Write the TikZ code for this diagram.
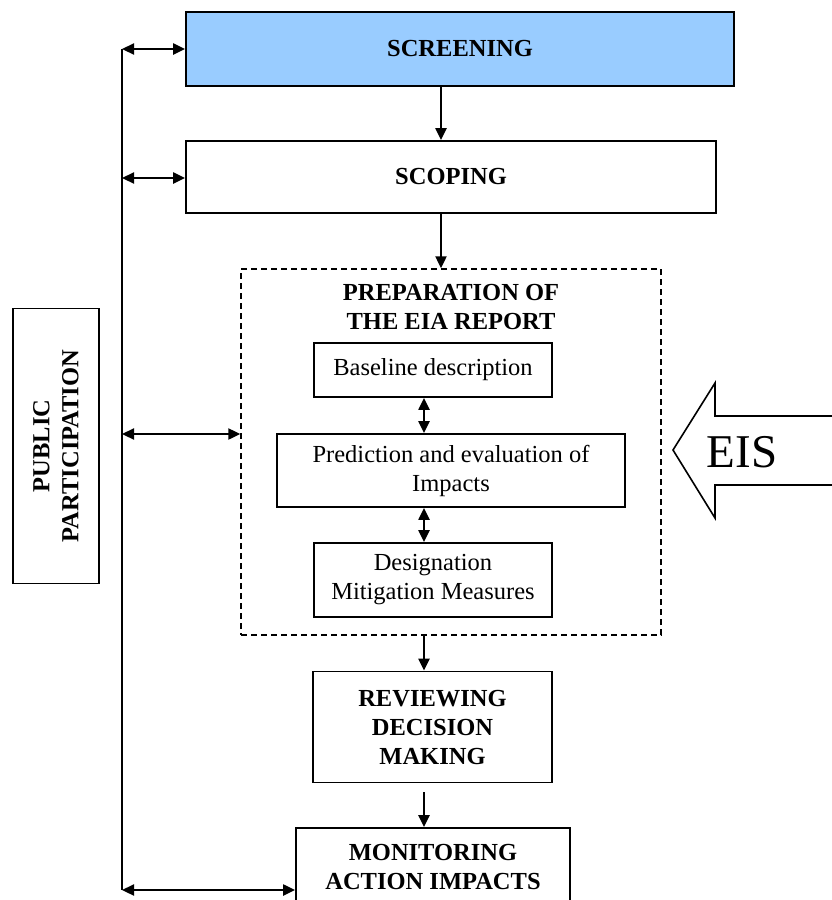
\documentclass[tikz,border=0pt]{standalone}
\usepackage{fontspec}
\setmainfont{Liberation Serif}
\usetikzlibrary{arrows.meta}
\definecolor{screenblue}{RGB}{153,204,255}
\tikzset{
  box/.style={draw, line width=1.8pt, rectangle, inner sep=0pt, align=center,
    font=\fontsize{24.5}{29}\selectfont},
  bbox/.style={box, font=\fontsize{24.5}{29}\selectfont\bfseries},
  dashbox/.style={draw, line width=1.4pt, dash pattern=on 6pt off 4pt, rectangle, inner sep=0pt},
  conn/.style={line width=2.2pt, -{Triangle[length=12pt,width=11pt]}},
  dconn/.style={line width=2.2pt, {Triangle[length=12pt,width=11pt]}-{Triangle[length=12pt,width=11pt]}},
}
\begin{document}
\begin{tikzpicture}[x=1pt,y=-1pt]
\clip (0,0) rectangle (832,900);
\fill[white] (0,0) rectangle (832,900);

% main column
\node[bbox, fill=screenblue, minimum width=548, minimum height=74] (scr) at (460,49) {SCREENING};
\node[bbox, minimum width=530, minimum height=72] (scp) at (451,177) {SCOPING};
\node[dashbox, minimum width=420, minimum height=366] (prep) at (451,452) {};
\node[font=\fontsize{24.5}{29}\selectfont\bfseries, align=center, inner sep=0pt] (title) at (451,307.5) {PREPARATION OF\\THE EIA REPORT};
\node[box, minimum width=238, minimum height=54] (base) at (433,370) {Baseline description};
\node[box, minimum width=348, minimum height=73] (pred) at (451,470.5) {Prediction and evaluation of\\Impacts};
\node[box, minimum width=238, minimum height=74] (desg) at (433,580) {Designation\\Mitigation Measures};
\node[bbox, minimum width=239, minimum height=111] (rev) at (432.5,727) {REVIEWING\\DECISION\\MAKING};
\node[bbox, minimum width=274, minimum height=100] (mon) at (433,878) {};
\node[font=\fontsize{24.5}{29}\selectfont\bfseries, align=center, inner sep=0pt] (montext) at (433,866.5) {MONITORING\\ACTION IMPACTS};

% public participation
\node[bbox, rotate=90, minimum width=275, minimum height=86] (pp) at (56,446) {PUBLIC\\PARTICIPATION};

% vertical connectors
\coordinate (ax1) at (441,0);
\coordinate (ax2) at (424,0);
\draw[conn] (scr.south -| ax1) -- (scp.north -| ax1);
\draw[conn] (scp.south -| ax1) -- (prep.north -| ax1);
\draw[dconn] (base.south -| ax2) -- (pred.north -| ax2);
\draw[dconn] (pred.south -| ax2) -- (desg.north -| ax2);
\draw[conn] (prep.south -| ax2) -- (rev.north -| ax2);
\coordinate (rs) at (424,792);
\draw[conn] (rs) -- (mon.north -| rs);

% left feedback line
\coordinate (l1) at (122,49);
\coordinate (l2) at (122,178);
\coordinate (l3) at (122,434);
\coordinate (l4) at (122,890);
\draw[line width=2.2pt] (l1) -- (l4);
\draw[dconn] (l1) -- (scr.west);
\draw[dconn] (l2) -- (l2 -| scp.west);
\draw[dconn] (l3) -- (l3 -| prep.west);
\draw[dconn] (l4) -- (l4 -| mon.west);

% EIS arrow
\draw[line width=1.6pt, line join=miter]
  (840,416) -- (715,416) -- (715,383) -- (673,450) -- (715,518) -- (715,485) -- (840,485);
\node[font=\fontsize{47}{50}\selectfont, inner sep=0pt] (eis) at (742,452) {EIS};
\end{tikzpicture}
\end{document}
